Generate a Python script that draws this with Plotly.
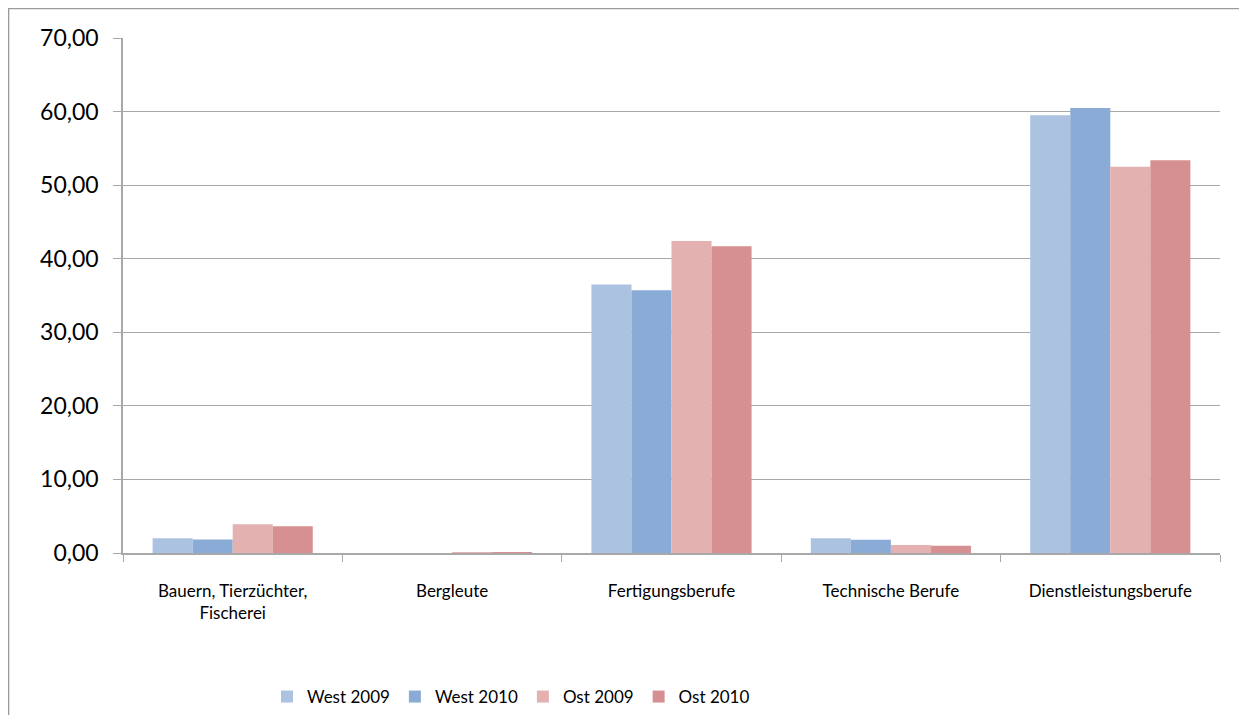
import plotly.graph_objects as go

categories = ["Bauern, Tierzüchter,<br>Fischerei", "Bergleute", "Fertigungsberufe",
              "Technische Berufe", "Dienstleistungsberufe"]
west_2009 = [2.0, 0.0, 36.5, 2.0, 59.5]
west_2010 = [1.85, 0.0, 35.7, 1.8, 60.5]
ost_2009 = [3.9, 0.1, 42.4, 1.1, 52.5]
ost_2010 = [3.65, 0.1, 41.7, 1.0, 53.4]
tick_vals = [0, 10, 20, 30, 40, 50, 60, 70]
tick_text = ["0,00", "10,00", "20,00", "30,00", "40,00", "50,00", "60,00", "70,00"]

series = [
    ("West 2009", west_2009, "#abc3e1"),
    ("West 2010", west_2010, "#8aabd6"),
    ("Ost 2009", ost_2009, "#e4b1b1"),
    ("Ost 2010", ost_2010, "#d69091"),
]

fig = go.Figure()
for name, vals, col in series:
    fig.add_trace(go.Bar(x=categories, y=vals, name=name, marker_color=col,
                         marker_line_width=0))

# page body has an 8px margin, so the figure is drawn 8px smaller
W, H = 1239, 707
L, T, R, B = 115, 30, 27, 162
pw, ph = W - L - R, H - T - B

grid = "#a8a8a8"
fig.update_layout(
    width=W, height=H,
    margin=dict(l=L, r=R, t=T, b=B, autoexpand=False),
    paper_bgcolor="white", plot_bgcolor="white",
    font=dict(family="Lato, Open Sans, sans-serif", color="black"),
    barmode="group", bargap=0.27, bargroupgap=0,
    showlegend=True,
    legend=dict(orientation="h", x=(503 - L) / pw, xanchor="center",
                y=(ph - (689 - T)) / ph, yanchor="middle",
                font=dict(size=17), itemwidth=30, traceorder="normal"),
    shapes=[dict(type="rect", xref="paper", yref="paper",
                 x0=-L / pw + 0.0005, x1=1.5, y0=-0.6, y1=1 + T / ph - 0.001,
                 line=dict(color="#9a9a9a", width=1.5), layer="below")],
)
fig.update_yaxes(range=[0, 70], tickvals=tick_vals, ticktext=tick_text,
                 showgrid=True, gridcolor=grid, gridwidth=1.3,
                 showline=True, linecolor=grid, linewidth=1.5,
                 ticks="outside", ticklen=8, tickcolor=grid, automargin=False,
                 ticklabelstandoff=10, tickfont=dict(size=23), zeroline=False)
fig.update_xaxes(showline=True, linecolor=grid, linewidth=1.5,
                 ticks="outside", ticklen=7, tickcolor=grid, tickson="boundaries",
                 automargin=False,
                 ticklabelstandoff=22, tickfont=dict(size=17), showgrid=False)

fig.write_html("out.html")
